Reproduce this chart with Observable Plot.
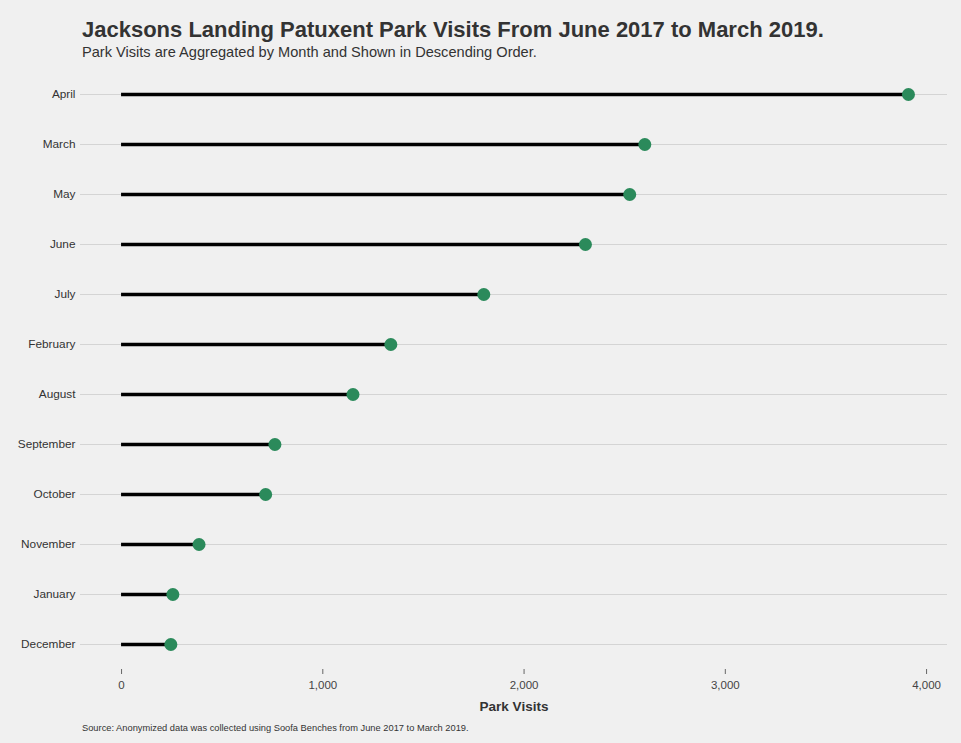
<!DOCTYPE html>
<html>
<head>
<meta charset="utf-8">
<script src="https://cdn.jsdelivr.net/npm/d3@7"></script>
<script src="https://cdn.jsdelivr.net/npm/@observablehq/plot@0.6"></script>
<style>
  html, body { margin: 0; padding: 0; background: #f0f0f0; }
  body { width: 961px; height: 743px; overflow: hidden; font-family: "Liberation Sans", Arial, sans-serif; position: relative; }
  #title { position: absolute; left: 82px; top: 17px; font-size: 22px; font-weight: bold; color: #333; white-space: nowrap; }
  #subtitle { position: absolute; left: 82px; top: 44px; font-size: 14.6px; color: #333; white-space: nowrap; }
  #chart { position: absolute; left: 0; top: 65px; }
  #caption { position: absolute; left: 82px; top: 723px; font-size: 9.3px; color: #333; white-space: nowrap; }
</style>
</head>
<body>
<div id="title">Jacksons Landing Patuxent Park Visits From June 2017 to March 2019.</div>
<div id="subtitle">Park Visits are Aggregated by Month and Shown in Descending Order.</div>
<div id="chart"></div>
<div id="caption">Source: Anonymized data was collected using Soofa Benches from June 2017 to March 2019.</div>
<script>
const months = ["April","March","May","June","July","February","August","September","October","November","January","December"];
const visits = [3910, 2600, 2525, 2305, 1800, 1338, 1150, 762, 716, 385, 255, 245];
const xTicks = [0, 1000, 2000, 3000, 4000];

const data = months.map((m, i) => ({month: m, value: visits[i]}));
const fmt = d3.format(",");

const chart = Plot.plot({
  width: 961,
  height: 655,
  marginLeft: 80,
  marginRight: 14,
  marginTop: 4,
  marginBottom: 51,
  style: {background: "transparent", fontFamily: "'Liberation Sans', Arial, sans-serif", color: "#333"},
  x: {domain: [-204, 4104], label: null},
  y: {type: "point", domain: months, padding: 0.5, label: null},
  marks: [
    Plot.gridY({stroke: "#d4d4d4", strokeOpacity: 1, strokeWidth: 1}),
    Plot.axisY({tickSize: 0, tickPadding: 5, fontSize: 11.8, label: null, fill: "#333"}),
    Plot.axisX({ticks: xTicks, tickFormat: d => fmt(d), tickSize: 5, tickPadding: 6, fontSize: 11.5, label: null, stroke: "#666", fill: "#444"}),
    Plot.ruleY(data, {y: "month", x1: 0, x2: "value", stroke: "#000", strokeWidth: 3.5}),
    Plot.dot(data, {x: "value", y: "month", r: 6.5, fill: "#2b8a5b", stroke: "none"}),
    Plot.text(["Park Visits"], {frameAnchor: "bottom", dy: 41, fontSize: 13.5, fontWeight: "bold", fill: "#333"})
  ]
});
document.getElementById("chart").appendChild(chart);
</script>
</body>
</html>
